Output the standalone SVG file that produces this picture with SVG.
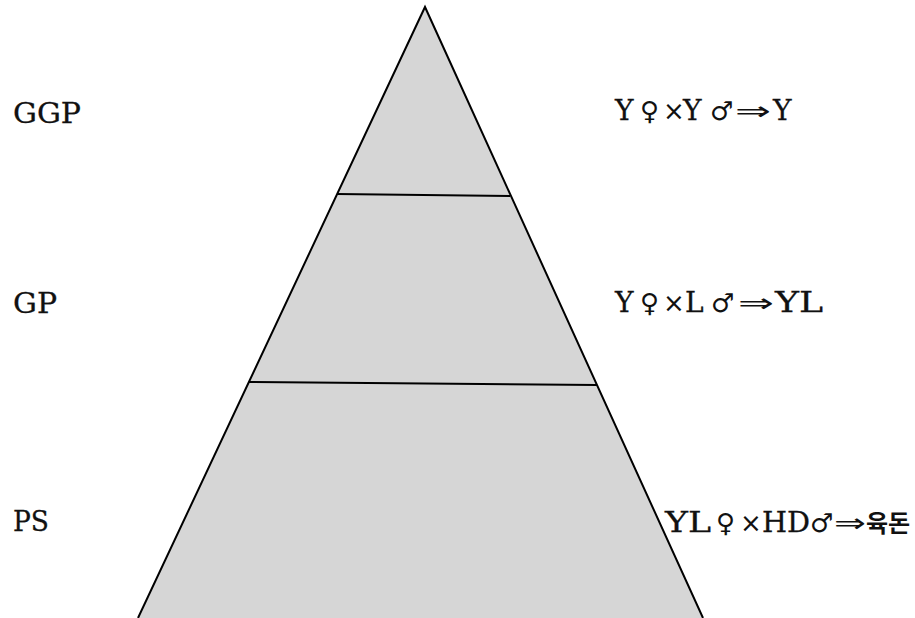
<svg xmlns="http://www.w3.org/2000/svg" width="915" height="618" viewBox="0 0 915 618">
<style>
.lbl{font-family:"DejaVu Serif","Liberation Serif",serif;font-size:28px;fill:#111;stroke:#111;stroke-width:0.3}
.sym{font-family:"DejaVu Sans","Noto Sans",sans-serif;font-size:26px;stroke-width:0}
.ko{font-family:"Noto Sans CJK KR",sans-serif;font-weight:bold;font-size:24px;stroke-width:0}
.edge{stroke:#000;stroke-width:2;fill:none}
</style>
<rect width="915" height="618" fill="#fff"/>
<g id="pyramid">
<polygon points="425,7 138,618 703,618" fill="#d6d6d6"/>
<polyline class="edge" points="138,618 425,7 703,618"/>
</g>
<g id="dividers">
<line class="edge" x1="337" y1="194" x2="510" y2="196"/>
<line class="edge" x1="249" y1="382" x2="597" y2="385"/>
</g>
<g id="GGP"><text class="lbl" x="13" y="123" textLength="68" lengthAdjust="spacingAndGlyphs">GGP</text></g>
<g id="GP"><text class="lbl" x="13" y="313" textLength="44" lengthAdjust="spacingAndGlyphs">GP</text></g>
<g id="PS"><text class="lbl" x="13" y="531" textLength="36" lengthAdjust="spacingAndGlyphs">PS</text></g>
<g id="cross-GGP"><text class="lbl" y="120"><tspan x="615">Y</tspan><tspan class="sym" x="640">♀</tspan><tspan class="sym" x="663">×</tspan><tspan x="683">Y</tspan><tspan class="sym" x="710">♂</tspan><tspan class="sym" x="735" textLength="36" lengthAdjust="spacingAndGlyphs">⇒</tspan><tspan x="773">Y</tspan></text></g>
<g id="cross-GP"><text class="lbl" y="312"><tspan x="615">Y</tspan><tspan class="sym" x="640">♀</tspan><tspan class="sym" x="663">×</tspan><tspan x="685">L</tspan><tspan class="sym" x="711">♂</tspan><tspan class="sym" x="738" textLength="36" lengthAdjust="spacingAndGlyphs">⇒</tspan><tspan x="775" textLength="48" lengthAdjust="spacingAndGlyphs">YL</tspan></text></g>
<g id="cross-PS"><text class="lbl" y="532"><tspan x="665" textLength="46" lengthAdjust="spacingAndGlyphs">YL</tspan><tspan class="sym" x="716">♀</tspan><tspan class="sym" x="740">×</tspan><tspan x="762" textLength="48" lengthAdjust="spacingAndGlyphs">HD</tspan><tspan class="sym" x="810">♂</tspan><tspan class="sym" x="834" textLength="32" lengthAdjust="spacingAndGlyphs">⇒</tspan><tspan class="ko" x="866">육돈</tspan></text></g>
</svg>
